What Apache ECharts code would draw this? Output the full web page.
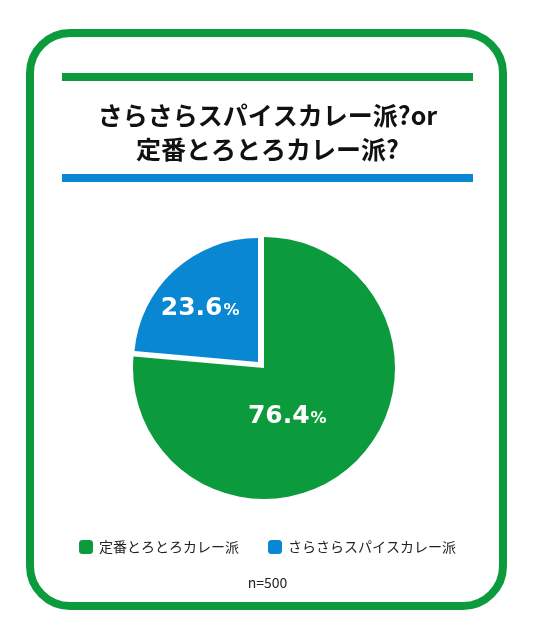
<!DOCTYPE html>
<html>
<head>
<meta charset="UTF-8">
<title>カレー派</title>
<script src="https://cdn.jsdelivr.net/npm/echarts@6/dist/echarts.min.js"></script>
<style>
  html, body { margin: 0; padding: 0; background: #fff; }
  #main { width: 535px; height: 640px; }
</style>
</head>
<body>
<div id="main"></div>
<script>
var titleLines = ['さらさらスパイスカレー派?or', '定番とろとろカレー派?'];
var categories = ['定番とろとろカレー派', 'さらさらスパイスカレー派'];
var shares = [76.4, 23.6];
var colors = ['#0b9b3c', '#0a87d2'];
var sampleNote = 'n=500';

var font = '"Noto Sans CJK JP", "Noto Sans", sans-serif';
var numFont = '"DejaVu Sans", sans-serif';
var chart = echarts.init(document.getElementById('main'));

// the blue slice is drawn by its own series: a bit smaller and pushed up-left
function sliceData(show, labelOffset) {
  return categories.map(function (name, i) {
    return {
      name: name,
      value: shares[i],
      itemStyle: { color: i === show ? colors[i] : 'transparent' },
      label: { show: i === show, offset: labelOffset }
    };
  });
}

var pctLabel = {
  position: 'inside',
  formatter: function (p) { return '{v|' + p.value.toFixed(1) + '}{p|%}'; },
  rich: {
    v: { fontFamily: numFont, fontSize: 25, fontWeight: 'bold', color: '#fff' },
    p: { fontFamily: numFont, fontSize: 16, fontWeight: 'bold', color: '#fff', padding: [5, 0, 0, 1] }
  }
};

var option = {
  animation: false,
  title: {
    text: titleLines.join('\n'),
    left: 'center',
    top: 98,
    padding: 0,
    textStyle: {
      fontFamily: font,
      fontSize: 25,
      fontWeight: 'bold',
      color: '#111',
      lineHeight: 34
    }
  },
  legend: {
    top: 535,
    left: 'center',
    itemWidth: 14,
    itemHeight: 14,
    itemGap: 29,
    icon: 'roundRect',
    selectedMode: false,
    textStyle: { fontFamily: font, fontSize: 14, color: '#222', padding: [0, 0, 0, 1] },
    data: categories.map(function (name, i) {
      return { name: name, itemStyle: { color: colors[i] } };
    })
  },
  graphic: [
    {
      type: 'rect',
      shape: { x: 30, y: 33, width: 473, height: 573, r: 40 },
      style: { fill: 'none', stroke: '#0b9b3c', lineWidth: 8 }
    },
    {
      type: 'rect',
      shape: { x: 62, y: 73, width: 411, height: 8 },
      style: { fill: '#0b9b3c' }
    },
    {
      type: 'rect',
      shape: { x: 62, y: 174, width: 411, height: 8 },
      style: { fill: '#0a87d2' }
    },
    {
      type: 'text',
      left: 'center',
      top: 576,
      style: { text: sampleNote, fontFamily: font, fontSize: 14, fill: '#222' }
    }
  ],
  series: [
    {
      type: 'pie',
      center: [264, 368],
      radius: 131,
      startAngle: 90,
      clockwise: true,
      silent: true,
      label: pctLabel,
      labelLine: { show: false },
      data: sliceData(0, [-23, -2])
    },
    {
      type: 'pie',
      center: [258, 362],
      radius: 124,
      startAngle: 90,
      clockwise: true,
      silent: true,
      label: pctLabel,
      labelLine: { show: false },
      data: sliceData(1, [-14, -6])
    }
  ]
};

chart.setOption(option);
</script>
</body>
</html>
